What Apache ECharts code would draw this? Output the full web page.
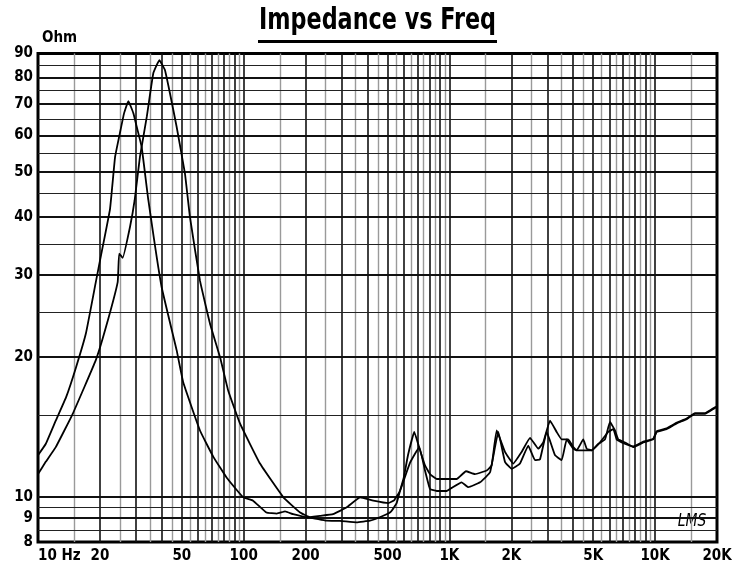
<!DOCTYPE html>
<html>
<head>
<meta charset="utf-8">
<script src="https://cdn.jsdelivr.net/npm/echarts@6/dist/echarts.min.js"></script>
<style>
  html, body { margin: 0; padding: 0; background: #fff; }
  #chart { width: 743px; height: 565px; }
</style>
</head>
<body>
<div id="chart"></div>
<script>
// curve with the lower resonance (~27 Hz)
const freqA = [10, 10.9, 12.2, 13.7, 15.3, 17.1, 19.1, 20.3, 22.4, 23.7, 25.0, 26.2, 27.5, 29.1, 30.2, 31.9, 34.4, 39.9, 47.2, 50.9, 61.3, 71.2, 82.7, 99.5, 111, 129, 145, 159, 174, 203, 235, 272, 317, 368, 427, 505, 540, 575, 644, 714, 761, 805, 868, 970, 1026, 1147, 1236, 1409, 1576, 1729, 1863, 2009, 2204, 2418, 2608, 2757, 2972, 3262, 3515, 3718, 4002, 4157, 4561, 4919, 5395, 5921, 6263, 6506, 6880, 7834, 8765, 9802, 10180, 11380, 12740, 14240, 15630, 17480, 19550, 20000];
const ohmA = [12.3, 13.0, 14.6, 16.4, 19.0, 22.5, 29.0, 33.3, 41.7, 53.9, 60.6, 66.9, 71.1, 66.9, 62.6, 56.7, 43.5, 28.3, 20.7, 17.6, 13.9, 12.2, 11.0, 9.98, 9.82, 9.26, 9.21, 9.31, 9.18, 9.04, 9.11, 9.18, 9.5, 9.98, 9.82, 9.7, 9.85, 10.3, 11.85, 12.8, 11.4, 10.4, 10.3, 10.3, 10.46, 10.75, 10.5, 10.75, 11.3, 13.8, 11.9, 11.5, 11.8, 12.9, 12.0, 12.05, 13.8, 12.3, 12.0, 13.3, 12.7, 12.6, 12.6, 12.6, 13.1, 13.8, 14.0, 13.3, 13.1, 12.85, 13.15, 13.35, 13.85, 14.05, 14.45, 14.75, 15.15, 15.15, 15.6, 15.65];

// curve with the higher resonance (~39 Hz)
const freqB = [10, 10.9, 12.2, 14.75, 19.1, 21.4, 24.4, 24.8, 25.8, 28.0, 29.5, 31.3, 33.8, 36.35, 38.9, 41.4, 43.8, 47.2, 51.8, 54.8, 61.3, 68.6, 76.7, 84.2, 95.9, 120, 156, 188, 210, 253, 294, 354, 411, 477, 520, 554, 575, 600, 629, 675, 720, 761, 805, 868, 1085, 1204, 1332, 1518, 1605, 1698, 1863, 2045, 2246, 2466, 2705, 2861, 3084, 3323, 3515, 3784, 4002, 4157, 4477, 4651, 4919, 5296, 5708, 6037, 6385, 6623, 7140, 7834, 8765, 9802, 10180, 11380, 12740, 14240, 15630, 17480, 19550, 20000];
const ohmB = [11.2, 11.9, 12.8, 15.1, 19.7, 23.2, 29.0, 33.4, 32.7, 38.1, 43.5, 53.9, 65.8, 81.6, 87.1, 82.9, 73.9, 62.6, 49.7, 40.0, 29.2, 23.6, 20.0, 16.9, 14.4, 11.8, 9.98, 9.26, 9.04, 8.89, 8.88, 8.82, 8.89, 9.11, 9.3, 9.7, 10.3, 11.0, 12.3, 13.8, 12.6, 11.7, 11.2, 10.93, 10.93, 11.36, 11.2, 11.4, 11.7, 13.9, 12.5, 11.8, 12.5, 13.4, 12.7, 13.1, 14.6, 13.8, 13.3, 13.3, 12.8, 12.6, 13.3, 12.7, 12.6, 13.0, 13.3, 14.5, 13.9, 13.3, 13.1, 12.8, 13.1, 13.3, 13.8, 14.0, 14.4, 14.7, 15.1, 15.1, 15.55, 15.6];

// tick labels
const xLabelValues = [10, 20, 50, 100, 200, 500, 1000, 2000, 5000, 10000, 20000];
const xLabelTexts = ['10 Hz', '20', '50', '100', '200', '500', '1K', '2K', '5K', '10K', '20K'];
const yLabelValues = [8, 9, 10, 20, 30, 40, 50, 60, 70, 80, 90];

// grid lines
const decades = [10, 100, 1000, 10000];
const majorSteps = [1, 2, 3, 4, 5, 6, 7, 8, 9];
const halfSteps = [1.5, 2.5, 3.5, 4.5, 5.5, 6.5, 7.5, 8.5, 9.5];
const yMajor = [9, 10, 20, 30, 40, 50, 60, 70, 80];
const yMinor = [8.5, 9.5, 15, 25, 35, 45, 55, 65, 75, 85];

const NARROW = '"Liberation Sans Narrow", "Arial Narrow", "DejaVu Sans Condensed", "Liberation Sans", sans-serif';

const pairs = (xs, ys) => xs.map((x, i) => [x, ys[i]]);

const gridLines = [];
decades.forEach(d => {
  majorSteps.forEach(s => {
    const v = d * s;
    if (v > 10 && v < 20000) gridLines.push({ xAxis: v, lineStyle: { color: '#111', width: 1.6 } });
  });
  halfSteps.forEach(s => {
    const v = d * s;
    if (v < 20000) gridLines.push({ xAxis: v, lineStyle: { color: '#9a9a9a', width: 1.4 } });
  });
});
yMajor.forEach(v => gridLines.push({ yAxis: v, lineStyle: { color: '#111', width: 1.8 } }));
yMinor.forEach(v => gridLines.push({ yAxis: v, lineStyle: { color: '#222', width: 1.1 } }));

const labelStyle = { color: '#000', fontFamily: NARROW, fontWeight: 'bold', fontSize: 15 };
const axisLabels = [];
xLabelValues.forEach((v, i) => {
  axisLabels.push({
    xAxis: v,
    label: Object.assign({ formatter: xLabelTexts[i], distance: 7 }, labelStyle, i === 0 ? { align: 'left', padding: [0, 0, 0, 0] } : {})
  });
});
yLabelValues.forEach(v => {
  axisLabels.push({ yAxis: v, label: Object.assign({ formatter: String(v), distance: 5 }, labelStyle) });
});

const chart = echarts.init(document.getElementById('chart'));

const option = {
  animation: false,
  backgroundColor: '#fff',
  grid: {
    left: 38, right: 26, top: 53.5, bottom: 23,
    show: true, borderColor: '#000', borderWidth: 3, backgroundColor: 'transparent'
  },
  xAxis: {
    type: 'log', logBase: 10, min: 10, max: 20000,
    axisLine: { show: false }, axisTick: { show: false },
    axisLabel: { show: false }, splitLine: { show: false }, minorSplitLine: { show: false }
  },
  yAxis: {
    type: 'log', logBase: 10, min: 8, max: 90,
    name: 'Ohm', nameLocation: 'end', nameGap: 8,
    nameTextStyle: { color: '#000', fontFamily: NARROW, fontWeight: 'bold', fontSize: 15, align: 'left', verticalAlign: 'bottom', padding: [0, 0, 0, 4] },
    axisLine: { show: false }, axisTick: { show: false },
    axisLabel: { show: false }, splitLine: { show: false }, minorSplitLine: { show: false }
  },
  graphic: [
    {
      type: 'text', x: 377.5, y: 21, scaleX: 0.8,
      style: { text: 'Impedance vs Freq', fill: '#000', font: 'bold 31px ' + NARROW, textAlign: 'center', textVerticalAlign: 'middle' }
    },
    { type: 'rect', shape: { x: 258, y: 40, width: 239, height: 3 }, style: { fill: '#000' } },
    {
      type: 'text', x: 692, y: 522, scaleX: 0.9,
      style: { text: 'LMS', fill: '#000', font: 'italic 17px "DejaVu Sans Condensed", sans-serif', textAlign: 'center', textVerticalAlign: 'middle' }
    }
  ],
  series: [
    {
      name: 'grid', type: 'line', data: [], silent: true,
      markLine: {
        silent: true, animation: false, z: 1,
        symbol: ['none', 'none'],
        label: { show: false },
        lineStyle: { type: 'solid' },
        emphasis: { disabled: true },
        data: gridLines
      }
    },
    {
      name: 'labels', type: 'line', data: [], silent: true,
      markLine: {
        silent: true, animation: false, z: 1,
        symbol: ['none', 'none'],
        lineStyle: { color: 'rgba(0,0,0,0)', width: 0, type: 'solid' },
        label: { show: true, position: 'start', color: '#000' },
        emphasis: { disabled: true },
        data: axisLabels
      }
    },
    {
      name: 'A', type: 'line', data: pairs(freqA, ohmA), showSymbol: false, smooth: 0.1, z: 3,
      lineStyle: { color: '#000', width: 1.8 }
    },
    {
      name: 'B', type: 'line', data: pairs(freqB, ohmB), showSymbol: false, smooth: 0.1, z: 3,
      lineStyle: { color: '#000', width: 1.8 }
    }
  ]
};

chart.setOption(option);
</script>
</body>
</html>
